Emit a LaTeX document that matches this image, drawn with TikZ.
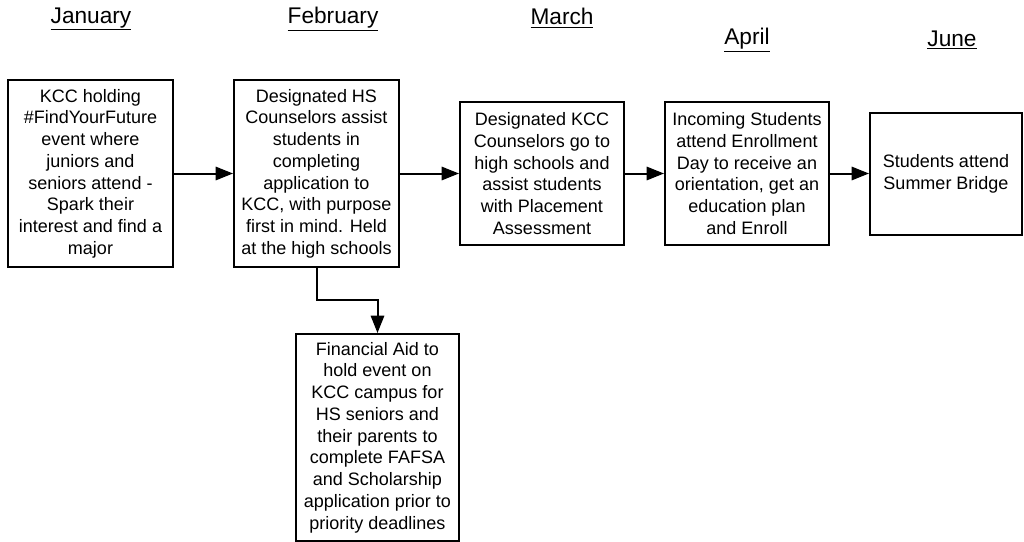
\documentclass[tikz,border=0pt]{standalone}
\usepackage{fontspec}
\setmainfont{Liberation Sans}
\usetikzlibrary{arrows.meta}
\begin{document}
\begin{tikzpicture}[x=0.75pt,y=-0.75pt,
	box/.style={draw,line width=1.5pt,align=center,inner sep=0pt,font=\fontsize{13.5}{16.3}\selectfont},
	month/.style={font=\fontsize{17}{20}\selectfont},
	link/.style={line width=1.5pt,-{Triangle[length=13pt,width=10pt]}}]
	\useasboundingbox (0,0) rectangle (1024,542);
				\node[month] (hjan) at (91,19) {\underline{January}};
				\node[month] (hfeb) at (333,19) {\underline{February}};
				\node[month] (hmar) at (562,18) {\underline{March}};
				\node[month] (hapr) at (747,40) {\underline{April}};
				\node[month] (hjun) at (952,40) {\underline{June}};
					\node[box,minimum width=123.75pt,minimum height=140.25pt] (jan) at (90.5,173.5) {KCC holding\\\#FindYourFuture\\event where\\juniors and\\seniors attend -\\Spark their\\interest and find a\\major};
					\node[box,minimum width=123.75pt,minimum height=140.25pt] (feb) at (316.5,173.5) {Designated HS\\Counselors assist\\students in\\completing\\application to\\KCC, with purpose\\first in mind. Held\\at the high schools};
					\node[box,minimum width=123pt,minimum height=107.25pt] (mar) at (542,173.5) {Designated KCC\\Counselors go to\\high schools and\\assist students\\with Placement\\Assessment};
					\node[box,minimum width=123pt,minimum height=107.25pt] (apr) at (747,173.5) {Incoming Students\\attend Enrollment\\Day to receive an\\orientation, get an\\education plan\\and Enroll};
					\node[box,minimum width=114pt,minimum height=91.5pt] (jun) at (946,173.5) {Students attend\\Summer Bridge};
					\node[box,minimum width=122.25pt,minimum height=155.25pt] (aid) at (377.5,437.5) {Financial Aid to\\hold event on\\KCC campus for\\HS seniors and\\their parents to\\complete FAFSA\\and Scholarship\\application prior to\\priority deadlines};
					\draw[link] (jan) -- (feb);
					\draw[link] (feb) -- (mar);
					\draw[link] (mar) -- (apr);
					\draw[link] (apr) -- (jun);
					\draw[link] (feb.south) -- ++(0,32) -| (aid.north);
			\end{tikzpicture}
\end{document}
